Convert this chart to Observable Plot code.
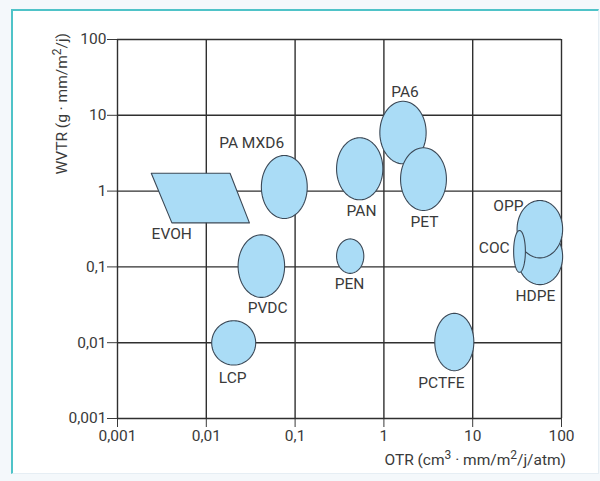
<!DOCTYPE html>
<html>
<head>
<meta charset="utf-8">
<script src="https://cdn.jsdelivr.net/npm/d3@7"></script>
<script src="https://cdn.jsdelivr.net/npm/@observablehq/plot@0.6"></script>
<style>
  html, body { margin: 0; padding: 0; background: #f4f8fb; }
  #wrap { position: relative; width: 600px; height: 481px; overflow: hidden; }
  #frame { position: absolute; left: 11px; top: 9px; width: 585px; height: 462px;
           background: #ffffff; border-left: 2px solid #4fc3c8; border-top: 2px solid #4fc3c8;
           border-right: 1px solid #e6eef4; border-bottom: 1px solid #e6eef4; }
  #chart { position: absolute; left: 0; top: 0; }
  svg text { font-family: Roboto, "Noto Sans", sans-serif; }
</style>
</head>
<body>
<div id="wrap"><div id="frame"></div><div id="chart"></div></div>
<script>
// ---- data ----
// ellipse materials, drawn in this order
const materials = ["PA MXD6", "PVDC", "LCP", "PAN", "PA6", "PET", "PEN", "PCTFE", "HDPE", "OPP", "COC"];
const otrMin  = [0.0417, 0.0228, 0.0115, 0.293, 0.90, 1.54, 0.293, 3.74, 31.8, 31.6, 28.9];
const otrMax  = [0.137,  0.0762, 0.036,  0.973, 2.99, 5.06, 0.594, 10.3, 103,  103,  39.2];
const wvtrMin = [0.435,  0.0396, 0.00507, 0.767, 2.29, 0.555, 0.0822, 0.00427, 0.0583, 0.1315, 0.0849];
const wvtrMax = [2.95,   0.265,  0.0195, 5.06, 15.3, 3.73, 0.234, 0.0244, 0.32, 0.752, 0.302];

// EVOH parallelogram corners (OTR, WVTR)
const evohOtr  = [0.0024, 0.0185, 0.0306, 0.0041];
const evohWvtr = [1.72, 1.72, 0.381, 0.381];

// labels
const labelNames = ["PA MXD6", "EVOH", "PVDC", "LCP", "PAN", "PA6", "PET", "OPP", "COC", "HDPE", "PEN", "PCTFE"];
const labelOtr   = [0.0324, 0.00408, 0.0491, 0.0198, 0.56, 1.73, 2.86, 25.2, 17.5, 50.7, 0.41, 4.45];
const labelWvtr  = [4.26, 0.275, 0.029, 0.00345, 0.538, 20.1, 0.396, 0.627, 0.175, 0.0418, 0.060, 0.00297];

// ticks
const xTicks = [0.001, 0.01, 0.1, 1, 10, 100];
const xTickLabels = ["0,001", "0,01", "0,1", "1", "10", "100"];
const yTicks = [0.001, 0.01, 0.1, 1, 10, 100];
const yTickLabels = ["0,001", "0,01", "0,1", "1", "10", "100"];

// ---- build shapes in log space ----
const ellipsePts = [];
materials.forEach((name, i) => {
  const cx = (Math.log10(otrMin[i]) + Math.log10(otrMax[i])) / 2;
  const rx = (Math.log10(otrMax[i]) - Math.log10(otrMin[i])) / 2;
  const cy = (Math.log10(wvtrMin[i]) + Math.log10(wvtrMax[i])) / 2;
  const ry = (Math.log10(wvtrMax[i]) - Math.log10(wvtrMin[i])) / 2;
  for (let k = 0; k < 90; k++) {
    const t = 2 * Math.PI * k / 90;
    ellipsePts.push({name, otr: 10 ** (cx + rx * Math.cos(t)), wvtr: 10 ** (cy + ry * Math.sin(t))});
  }
});
const evoh = evohOtr.map((o, i) => ({name: "EVOH", otr: o, wvtr: evohWvtr[i]}));
const labels = labelNames.map((n, i) => ({name: n, otr: labelOtr[i], wvtr: labelWvtr[i]}));

const fillC = "#aadcf6", strokeC = "#3b4856", gridC = "#2f2f2f", textC = "#3a3a3a";

const plot = Plot.plot({
  width: 600,
  height: 481,
  marginLeft: 117,
  marginRight: 39,
  marginTop: 39,
  marginBottom: 63,
  style: {background: "transparent", fontFamily: "Roboto, 'Noto Sans', sans-serif", fontSize: "15.5px", color: textC},
  x: {type: "log", domain: [0.001, 100], ticks: xTicks, tickFormat: (d) => xTickLabels[xTicks.indexOf(d)], tickSize: 9, tickPadding: 2, label: null},
  y: {type: "log", domain: [0.001, 100], ticks: yTicks, tickFormat: (d) => yTickLabels[yTicks.indexOf(d)], tickSize: 10, tickPadding: 1, label: null},
  marks: [
    Plot.ruleX(xTicks, {stroke: gridC, strokeWidth: 1.4}),
    Plot.ruleY(yTicks, {stroke: gridC, strokeWidth: 1.4}),
    Plot.line(evoh, {x: "otr", y: "wvtr", curve: "linear-closed", fill: fillC, stroke: strokeC, strokeWidth: 1.1}),
    Plot.line(ellipsePts, {x: "otr", y: "wvtr", z: "name", curve: "linear-closed", fill: fillC, stroke: strokeC, strokeWidth: 1.1}),
    Plot.text(labels, {x: "otr", y: "wvtr", text: "name", fill: textC, fontSize: 15.5, textAnchor: "middle"})
  ]
});
document.getElementById("chart").appendChild(plot);

// axis titles with superscripts
const svg = d3.select(plot);
const xs = plot.scale("x"), ys = plot.scale("y");
const xr = xs.range, yr = ys.range;
const xt = svg.append("text")
  .attr("x", xr[1] + 5).attr("y", yr[0] + 47)
  .attr("text-anchor", "end").attr("fill", textC).attr("font-size", 15.5);
xt.append("tspan").text("OTR (cm");
xt.append("tspan").attr("dy", -6).attr("font-size", 12).text("3");
xt.append("tspan").attr("dy", 6).text(" · mm/m");
xt.append("tspan").attr("dy", -6).attr("font-size", 12).text("2");
xt.append("tspan").attr("dy", 6).text("/j/atm)");

const yt = svg.append("text")
  .attr("transform", `translate(${xr[0] - 50},${yr[1] - 6}) rotate(-90)`)
  .attr("text-anchor", "end").attr("fill", textC).attr("font-size", 15.5);
yt.append("tspan").text("WVTR (g · mm/m");
yt.append("tspan").attr("dy", -6).attr("font-size", 12).text("2");
yt.append("tspan").attr("dy", 6).text("/j)");
</script>
</body>
</html>
